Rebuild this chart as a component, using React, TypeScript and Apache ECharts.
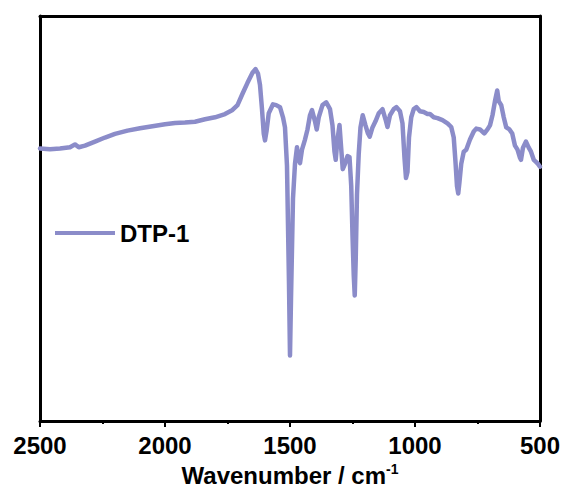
import React, { useEffect, useRef } from "react";
import * as echarts from "echarts";

const seriesName = "DTP-1";
const xTicks = [2500, 2000, 1500, 1000, 500];

const wavenumbers = [
  2500, 2460, 2420, 2380, 2360, 2345, 2320, 2280, 2240, 2200, 2150, 2100, 2050, 2000, 1960, 1920, 1880, 1840, 1800, 1760,
  1730, 1710, 1690, 1670, 1650, 1638, 1628, 1620, 1612, 1605, 1600, 1594, 1585, 1568, 1555, 1540, 1528, 1520, 1512, 1504,
  1500, 1496, 1488, 1480, 1472, 1465, 1460, 1452, 1440, 1430, 1420, 1412, 1400, 1393, 1385, 1370, 1355, 1340, 1330, 1322,
  1317, 1311, 1302, 1296, 1289, 1280, 1270, 1262, 1255, 1250, 1245, 1241, 1237, 1232, 1225, 1218, 1209, 1198, 1188, 1181,
  1170, 1158, 1145, 1130, 1118, 1110, 1100, 1085, 1074, 1060, 1050, 1042, 1036, 1030, 1024, 1015, 1005, 994, 980, 965,
  950, 940, 925, 910, 890, 870, 855, 845, 838, 832, 827, 822, 815, 805, 795, 780, 765, 755, 740, 723,
  710, 700, 690, 680, 671, 665, 655, 645, 635, 622, 611, 600, 590, 580, 576, 568, 556, 545, 536, 525,
  516, 508, 500,
];

const transmittance = [
  67.3, 67.1, 67.3, 67.6, 68.3, 67.6, 68.0, 69.0, 70.0, 70.9, 71.7, 72.3, 72.8, 73.3, 73.6, 73.7, 73.9, 74.5, 75.0, 75.8,
  76.8, 78.0, 80.8, 83.5, 86.0, 86.9, 85.8, 83.0, 77.0, 71.0, 69.3, 71.5, 76.0, 78.2, 78.0, 77.5, 75.0, 72.5, 63.0, 34.0,
  16.2, 30.0, 55.0, 63.5, 67.6, 64.5, 63.7, 67.0, 69.5, 72.0, 75.5, 76.8, 74.0, 72.0, 75.0, 78.0, 78.7, 77.0, 73.0, 66.5,
  64.5, 69.0, 73.1, 68.0, 62.2, 63.5, 65.4, 65.2, 58.0, 46.0, 36.0, 31.0, 40.0, 56.0, 66.0, 72.5, 75.5, 73.0, 71.0, 70.2,
  72.5, 74.0, 76.0, 77.0, 74.5, 72.6, 75.5, 77.0, 77.5, 76.5, 73.5, 65.0, 60.0, 61.5, 70.0, 75.0, 77.0, 77.5, 76.5, 76.3,
  75.8, 75.8, 75.0, 74.8, 74.3, 73.5, 72.6, 70.0, 64.0, 58.0, 56.2, 59.0, 63.5, 66.5, 67.0, 69.5, 71.5, 72.2, 72.0, 71.0,
  72.0, 73.0, 75.5, 79.0, 81.6, 79.0, 78.0, 75.0, 72.5, 72.0, 71.0, 68.0, 67.0, 65.0, 64.5, 67.5, 69.0, 67.5, 66.5, 64.5,
  64.0, 63.5, 62.8,
];

const FONT = "Arial, 'Liberation Sans', sans-serif";

export default function App() {
  const ref = useRef<HTMLDivElement>(null);
  useEffect(() => {
    if (!ref.current) return;
    const chart = echarts.init(ref.current, null, { renderer: "svg" });
    const data = wavenumbers.map((w, i) => [w, transmittance[i]]);
    chart.setOption({
      animation: false,
      backgroundColor: "#ffffff",
      grid: { left: 40, right: 22, top: 16, bottom: 63, containLabel: false },
      legend: {
        left: 50,
        top: 216,
        icon: "rect",
        itemWidth: 60,
        itemHeight: 4,
        data: [seriesName],
        textStyle: { fontFamily: FONT, fontSize: 24, fontWeight: "bold", color: "#000" },
      },
      xAxis: [
        {
          type: "value",
          inverse: true,
          min: 500,
          max: 2500,
          interval: 500,
          name: "{a|Wavenumber / cm}{s|-1}",
          nameLocation: "middle",
          nameGap: 40,
          nameTextStyle: {
            rich: {
              a: { fontFamily: FONT, fontSize: 24, fontWeight: "bold", color: "#000", lineHeight: 26 },
              s: { fontFamily: FONT, fontSize: 14, fontWeight: "bold", color: "#000", verticalAlign: "top", padding: [0, 0, 10, 0] },
            },
          },
          axisLine: { show: true, lineStyle: { color: "#000", width: 3 } },
          axisTick: { show: true, length: 6, inside: false, lineStyle: { color: "#000", width: 2 } },
          minorTick: { show: true, splitNumber: 2, length: 3, lineStyle: { color: "#000", width: 2 } },
          axisLabel: {
            margin: 12,
            fontFamily: FONT,
            fontSize: 24,
            fontWeight: "bold",
            color: "#000",
            formatter: (v: number) => (xTicks.includes(v) ? String(v) : ""),
          },
          splitLine: { show: false },
        },
        {
          type: "value",
          inverse: true,
          min: 500,
          max: 2500,
          position: "top",
          axisLine: { show: true, onZero: false, lineStyle: { color: "#000", width: 3 } },
          axisTick: { show: false },
          axisLabel: { show: false },
          splitLine: { show: false },
        },
      ],
      yAxis: [
        {
          type: "value",
          min: 0,
          max: 100,
          axisLine: { show: true, onZero: false, lineStyle: { color: "#000", width: 3 } },
          axisTick: { show: false },
          axisLabel: { show: false },
          splitLine: { show: false },
        },
        {
          type: "value",
          min: 0,
          max: 100,
          position: "right",
          axisLine: { show: true, onZero: false, lineStyle: { color: "#000", width: 3 } },
          axisTick: { show: false },
          axisLabel: { show: false },
          splitLine: { show: false },
        },
      ],
      series: [
        {
          name: seriesName,
          type: "line",
          data,
          showSymbol: false,
          symbol: "none",
          smooth: false,
          color: "#8b8cc9",
          lineStyle: { color: "#8b8cc9", width: 4.5, join: "round", cap: "round" },
        },
      ],
    });
    return () => chart.dispose();
  }, []);
  return <div ref={ref} style={{ width: 563, height: 492, position: "fixed", left: 0, top: 0 }} />;
}
